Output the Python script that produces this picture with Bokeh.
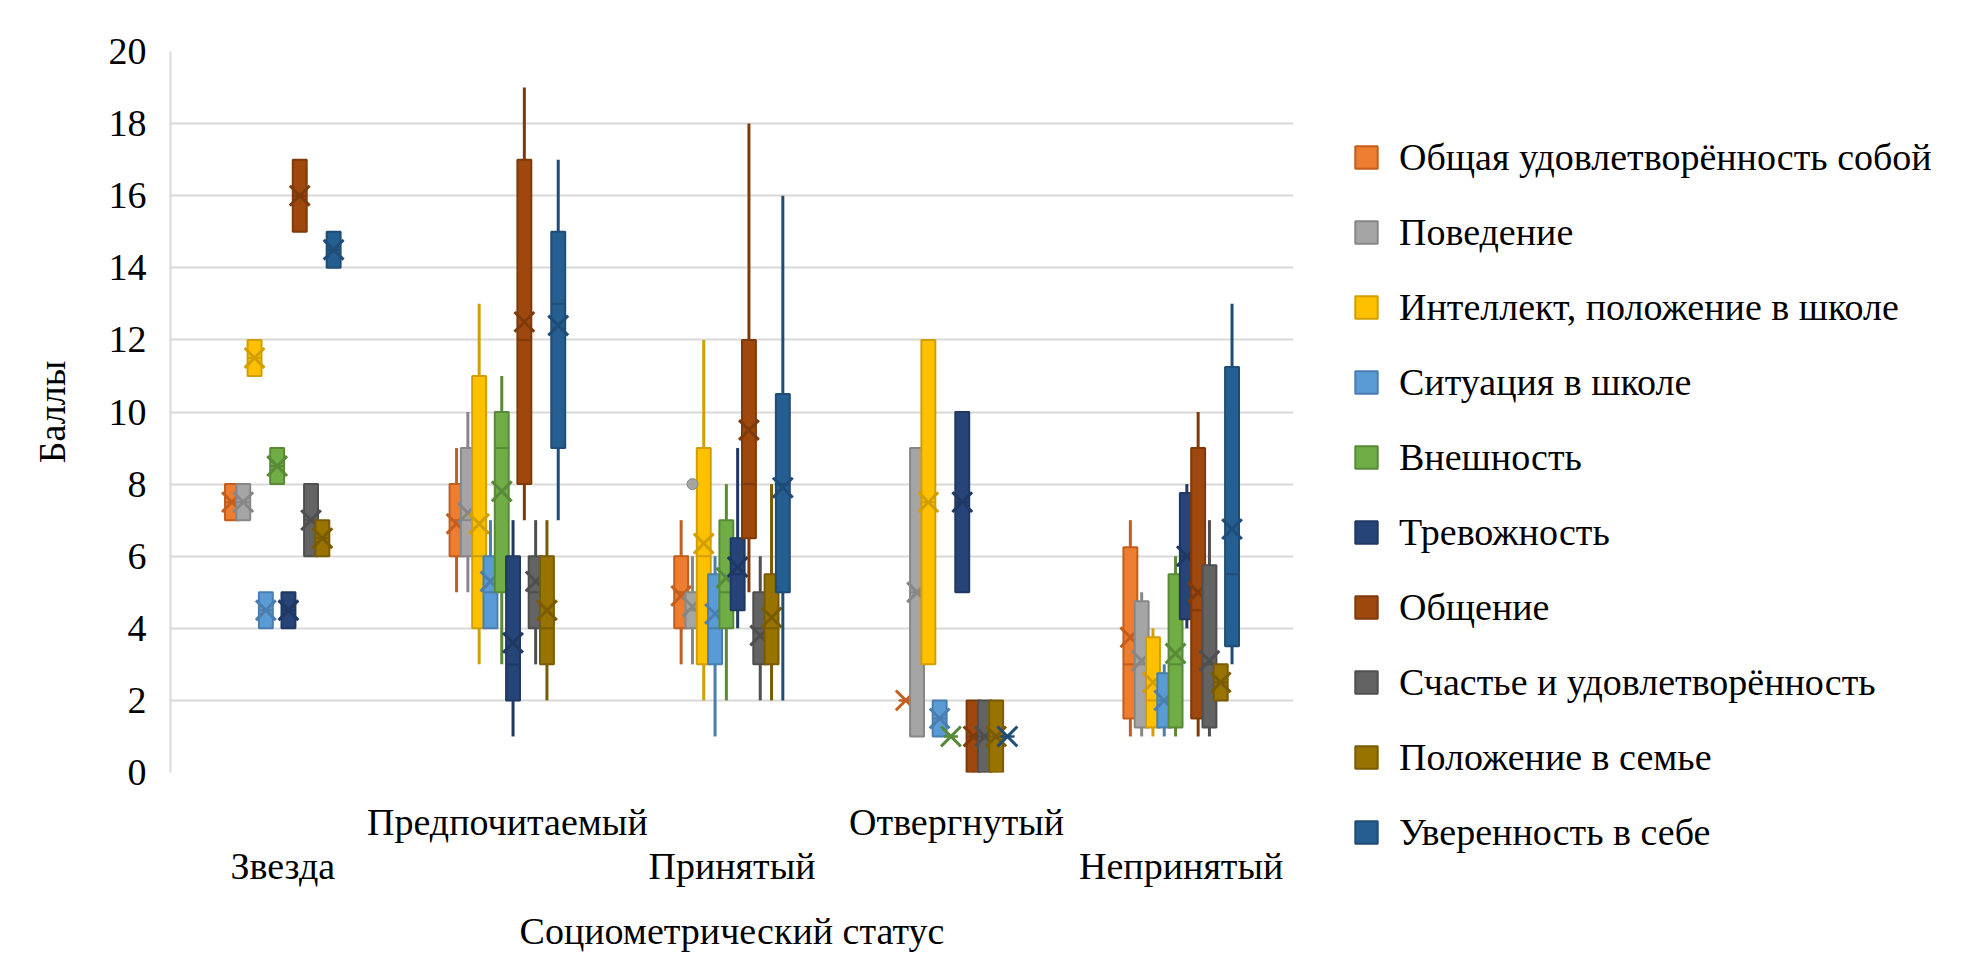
from bokeh.plotting import figure
from bokeh.models import Range1d, FixedTicker, Legend, LegendItem, ColumnDataSource
from bokeh.embed import file_html
from bokeh.resources import INLINE

groups = ["Звезда", "Предпочитаемый", "Принятый", "Отвергнутый", "Непринятый"]
series = ["Общая удовлетворённость собой", "Поведение", "Интеллект, положение в школе",
          "Ситуация в школе", "Внешность", "Тревожность", "Общение",
          "Счастье и удовлетворённость", "Положение в семье", "Уверенность в себе"]
fills = ["#ED7D31", "#A5A5A5", "#FFC000", "#5B9BD5", "#70AD47",
         "#264478", "#9E480E", "#636363", "#997300", "#255E91"]
darks = ["#C25E1E", "#878787", "#D29F00", "#4A7EB0", "#588A38",
         "#1F3864", "#7F3A0B", "#4F4F4F", "#7A5C00", "#1F4D77"]

# per series (rows) x per group (columns)
box_min = [
    [7, 5, 3, 2, 1], [7, 5, 3, 1, 1], [11, 3, 2, 3, 1], [4, 4, 1, 1, 1], [8, 3, 2, 1, 1],
    [4, 1, 4, 5, 4], [15, 7, 5, 0, 1], [6, 3, 2, 0, 1], [6, 2, 2, 0, 2], [14, 7, 2, 1, 3]]
box_q1 = [
    [7, 6, 4, 2, 1.5], [7, 6, 4, 1, 1.25], [11, 4, 3, 3, 1.25], [4, 4, 3, 1, 1.25], [8, 5, 4, 1, 1.25],
    [4, 2, 4.5, 5, 4.25], [15, 8, 6.5, 0, 1.5], [6, 4, 3, 0, 1.25], [6, 3, 3, 0, 2], [14, 9, 5, 1, 3.5]]
box_median = [
    [7.5, 7, 5, 2, 3], [7.5, 7, 4.5, 5, 3], [11.5, 6, 6, 7.5, 2], [4.5, 5, 4, 1.5, 2], [8.5, 9, 5, 1, 3],
    [4.5, 3, 5.5, 7.5, 6], [16, 12, 8, 1, 4.5], [7, 5, 4, 1, 3], [6.5, 4, 4, 1, 2.5], [14.5, 13, 8, 1, 5.5]]
box_q3 = [
    [8, 8, 6, 2, 6.25], [8, 9, 5, 9, 4.75], [12, 11, 9, 12, 3.75], [5, 6, 5.5, 2, 2.75], [9, 10, 7, 1, 5.5],
    [5, 6, 6.5, 10, 7.75], [17, 17, 12, 2, 9], [8, 6, 5, 2, 5.75], [7, 6, 5.5, 2, 3], [15, 15, 10.5, 1, 11.25]]
box_max = [
    [8, 9, 7, 2, 7], [8, 10, 6, 9, 5], [12, 13, 12, 12, 4], [5, 7, 6, 2, 3], [9, 11, 8, 1, 6],
    [5, 7, 9, 10, 8], [17, 19, 18, 2, 10], [8, 7, 6, 2, 7], [7, 7, 8, 2, 3], [15, 17, 16, 1, 13]]
box_mean = [
    [7.5, 6.9, 4.9, 2, 3.75], [7.5, 7.2, 4.6, 5, 3.1], [11.5, 6.9, 6.35, 7.5, 2.5], [4.5, 5.3, 4.4, 1.5, 2.0],
    [8.5, 7.8, 5.4, 1, 3.3], [4.5, 3.6, 5.7, 7.5, 6.0], [16, 12.5, 9.5, 1, 5.0], [7, 5.3, 3.8, 1, 3.1],
    [6.5, 4.5, 4.3, 1, 2.5], [14.5, 12.4, 7.9, 1, 6.75]]

outlier_group = [2]
outlier_series = [1]
outlier_value = [8]

y_ticks = [0, 2, 4, 6, 8, 10, 12, 14, 16, 18, 20]

FONT = "Liberation Serif"
FS = "38px"
step = 0.0503
bw = 0.062

p = figure(frame_width=1123, frame_height=721, output_backend="svg", toolbar_location=None,
           x_range=Range1d(0, 5), y_range=Range1d(0, 20),
           min_border_left=170, min_border_right=0, min_border_top=51, min_border_bottom=0)
p.background_fill_color = "white"
p.border_fill_color = "white"
p.outline_line_color = None

p.xgrid.grid_line_color = None
p.ygrid.grid_line_color = "#d9d9d9"
p.ygrid.grid_line_width = 2
p.yaxis.ticker = FixedTicker(ticks=y_ticks)
p.yaxis.axis_line_color = "#d9d9d9"
p.yaxis.axis_line_width = 2
p.yaxis.major_tick_line_color = None
p.yaxis.minor_tick_line_color = None
p.yaxis.major_label_standoff = 18
p.yaxis.major_label_text_font = FONT
p.yaxis.major_label_text_font_size = FS
p.yaxis.major_label_text_color = "black"
p.yaxis.axis_label = "Баллы"
p.yaxis.axis_label_text_font = FONT
p.yaxis.axis_label_text_font_size = FS
p.yaxis.axis_label_text_font_style = "normal"
p.yaxis.axis_label_text_color = "black"
p.yaxis.axis_label_standoff = 33

centers = [i + 0.5 for i in range(len(groups))]
overrides = {}
for i, g in enumerate(groups):
    overrides[centers[i]] = ("\n" + g) if i % 2 == 0 else g
p.xaxis.ticker = FixedTicker(ticks=centers)
p.xaxis.major_label_overrides = overrides
p.xaxis.axis_line_color = None
p.xaxis.major_tick_line_color = None
p.xaxis.minor_tick_line_color = None
p.xaxis.major_label_standoff = 22
p.xaxis.major_label_text_font = FONT
p.xaxis.major_label_text_font_size = FS
p.xaxis.major_label_text_line_height = 1.05
p.xaxis.major_label_text_color = "black"
p.xaxis.axis_label = "Социометрический статус"
p.xaxis.axis_label_text_font = FONT
p.xaxis.axis_label_text_font_size = FS
p.xaxis.axis_label_text_font_style = "normal"
p.xaxis.axis_label_text_color = "black"
p.xaxis.axis_label_standoff = 20

items = []
for j, name in enumerate(series):
    xs = [c + (j - 4.5) * step for c in centers]
    src = ColumnDataSource(dict(
        x=xs, left=[x - bw / 2 for x in xs], right=[x + bw / 2 for x in xs],
        lo=box_min[j], q1=box_q1[j], med=box_median[j], q3=box_q3[j], hi=box_max[j], mean=box_mean[j]))
    p.segment(x0="x", y0="lo", x1="x", y1="hi", line_color=darks[j], line_width=3, source=src)
    r = p.vbar(x="x", width=bw, top="q3", bottom="q1", fill_color=fills[j],
               line_color=darks[j], line_width=2, source=src)
    p.segment(x0="left", y0="med", x1="right", y1="med", line_color=darks[j], line_width=2, source=src)
    p.scatter(x="x", y="mean", marker="x", size=28, line_color=darks[j], line_width=3, source=src)
    items.append(LegendItem(label=name, renderers=[r]))

ox = [centers[g] + (s - 4.5) * step for g, s in zip(outlier_group, outlier_series)]
p.scatter(x=ox, y=outlier_value, marker="circle", size=11,
          fill_color=[fills[s] for s in outlier_series], line_color=[darks[s] for s in outlier_series])

legend = Legend(items=items, location=(59, -82))
legend.label_text_font = FONT
legend.label_text_font_size = FS
legend.label_text_color = "black"
legend.glyph_width = 28
legend.glyph_height = 28
legend.label_height = 40
legend.label_standoff = 19
legend.spacing = 31
legend.padding = 0
legend.margin = 0
legend.border_line_color = None
legend.background_fill_alpha = 0
p.add_layout(legend, "right")

open("out.html", "w").write(file_html(p, INLINE))
